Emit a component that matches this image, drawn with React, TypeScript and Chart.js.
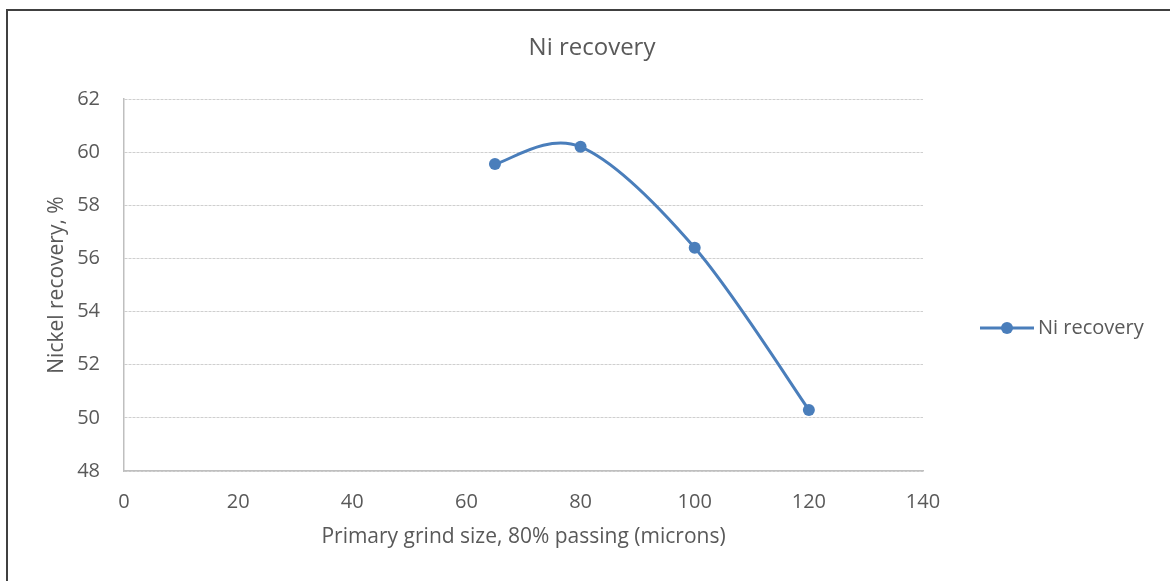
import React, { useEffect, useRef } from "react";
import { Chart, registerables } from "chart.js";

Chart.register(...registerables);

const chartTitle = "Ni recovery";
const seriesName = "Ni recovery";
const xAxisTitle = "Primary grind size, 80% passing (microns)";
const yAxisTitle = "Nickel recovery, %";
const grindSizes = [65, 80, 100, 120];
const nickelRecovery = [59.55, 60.2, 56.4, 50.3];
const xMin = 0, xMax = 140, xStep = 20;
const yMin = 48, yMax = 62, yStep = 2;

const FONT = "'Open Sans', sans-serif";
const TEXT = "#595959";
const BLUE = "#4A7EBB";

// Excel-like smoothing: Catmull-Rom control points (1/6 of neighbour span)
const smoothPlugin = {
  id: "excelSmooth",
  beforeDatasetDraw(chart: any, args: any) {
    const meta = args.meta;
    const line = meta.dataset;
    if (!line) return;
    line.updateControlPoints(chart.chartArea, meta.indexAxis);
    const pts = meta.data;
    const n = pts.length;
    for (let i = 0; i < n; i++) {
      const p = pts[i];
      const prev = pts[Math.max(0, i - 1)];
      const next = pts[Math.min(n - 1, i + 1)];
      const dx = (next.x - prev.x) / 6;
      const dy = (next.y - prev.y) / 6;
      p.cp1x = p.x - dx;
      p.cp1y = p.y - dy;
      p.cp2x = p.x + dx;
      p.cp2y = p.y + dy;
    }
    line._path = undefined;
  },
};

const overlayPlugin = {
  id: "overlay",
  afterDraw(chart: any) {
    const ctx = chart.ctx;
    ctx.save();
    ctx.fillStyle = TEXT;
    ctx.font = `24px ${FONT}`;
    ctx.textAlign = "center";
    ctx.textBaseline = "middle";
    ctx.fillText(chartTitle, 592, 48);
    const ly = 328;
    ctx.strokeStyle = BLUE;
    ctx.lineWidth = 3;
    ctx.beginPath();
    ctx.moveTo(980, ly);
    ctx.lineTo(1034, ly);
    ctx.stroke();
    ctx.fillStyle = BLUE;
    ctx.beginPath();
    ctx.arc(1007, ly, 6, 0, Math.PI * 2);
    ctx.fill();
    ctx.fillStyle = TEXT;
    ctx.font = `20px ${FONT}`;
    ctx.textAlign = "left";
    ctx.fillText(seriesName, 1038, ly);
    ctx.restore();
  },
};

export default function App() {
  const ref = useRef<HTMLCanvasElement>(null);
  useEffect(() => {
    if (!ref.current) return;
    const chart = new Chart(ref.current, {
      type: "line",
      data: {
        datasets: [
          {
            label: seriesName,
            data: grindSizes.map((x, i) => ({ x, y: nickelRecovery[i] })),
            borderColor: BLUE,
            backgroundColor: BLUE,
            borderWidth: 3,
            pointRadius: 6,
            pointBorderWidth: 0,
            pointBackgroundColor: BLUE,
            tension: 0.4,
            fill: false,
          },
        ],
      },
      options: {
        animation: false,
        responsive: false,
        devicePixelRatio: 1,
        layout: { padding: { left: 0, top: 99, right: 247, bottom: 0 } },
        plugins: {
          legend: { display: false },
          title: { display: false },
          tooltip: { enabled: false },
        },
        scales: {
          x: {
            type: "linear",
            min: xMin,
            max: xMax,
            ticks: {
              stepSize: xStep,
              color: TEXT,
              font: { family: FONT, size: 20 },
              padding: 19,
            },
            grid: { display: false, drawTicks: false },
            border: { display: true, color: "#BFBFBF", width: 1.5 },
            title: {
              display: true,
              text: xAxisTitle,
              color: TEXT,
              font: { family: FONT, size: 21 },
              padding: { top: 0, bottom: 31 },
            },
            afterFit(axis: any) {
              axis.height = 110;
            },
          },
          y: {
            min: yMin,
            max: yMax,
            ticks: {
              stepSize: yStep,
              color: TEXT,
              font: { family: FONT, size: 20 },
              padding: 24,
            },
            grid: { color: "#CFCFCF", lineWidth: 1, drawTicks: false },
            border: { display: true, color: "#BFBFBF", width: 1.5, dash: [3, 1] },
            title: {
              display: true,
              text: yAxisTitle,
              color: TEXT,
              font: { family: FONT, size: 21 },
              padding: { top: 44, bottom: 0 },
            },
            afterFit(axis: any) {
              axis.width = 124;
            },
          },
        },
      },
      plugins: [smoothPlugin, overlayPlugin],
    });
    return () => chart.destroy();
  }, []);

  return (
    <div style={{ position: "fixed", left: 0, top: 0, width: 1170, height: 581, background: "#fff", overflow: "hidden" }}>
      <div
        style={{
          position: "absolute",
          left: 6,
          top: 9,
          width: 1200,
          height: 700,
          borderLeft: "2px solid #404040",
          borderTop: "2px solid #404040",
        }}
      />
      <canvas ref={ref} width={1170} height={581} style={{ position: "absolute", left: 0, top: 0, width: 1170, height: 581 }} />
    </div>
  );
}
